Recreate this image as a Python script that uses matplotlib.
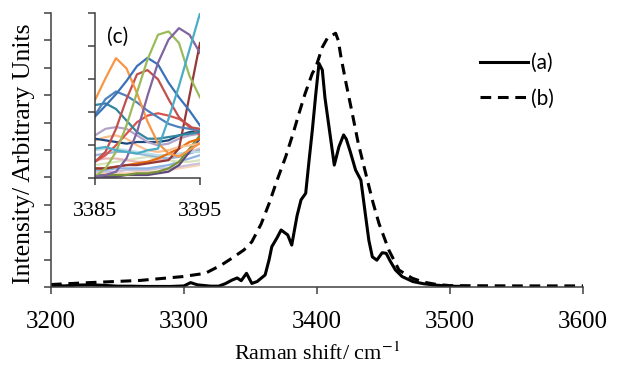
import matplotlib
matplotlib.use("Agg")
import matplotlib.pyplot as plt

plt.rcParams['mathtext.fontset'] = 'stix'

# main spectra, (a) solid and (b) dashed
a_x = [3200, 3210, 3220, 3230, 3240, 3250, 3260, 3270, 3280, 3290, 3300, 3305, 3310,
       3320, 3326, 3331, 3336, 3340, 3343, 3347, 3351, 3355, 3361, 3364, 3366, 3370,
       3373, 3378, 3381, 3385, 3388, 3391.5, 3394, 3396.5, 3399, 3401.5, 3404, 3406,
       3409, 3413, 3416.5, 3420, 3422, 3425, 3429, 3433, 3436.6, 3439, 3441.6, 3445,
       3449, 3452, 3455, 3459, 3464, 3472, 3480, 3489, 3500, 3510]
a_y = [0.05, 0.04, 0.07, 0.08, 0.06, 0.03, 0.03, 0.02, 0.02, 0.02, 0.04, 0.16, 0.08,
       0.03, 0.03, 0.12, 0.25, 0.33, 0.23, 0.5, 0.13, 0.2, 0.44, 1.0, 1.47, 1.8,
       2.08, 1.9, 1.53, 2.6, 3.18, 3.42, 4.6, 5.73, 7.0, 8.16, 7.92, 6.9,
       5.85, 4.45, 5.12, 5.55, 5.4, 4.94, 4.27, 3.9, 2.57, 1.7, 1.1, 0.98,
       1.25, 1.23, 0.95, 0.62, 0.38, 0.2, 0.12, 0.07, 0.03, 0.02]

b_x = [3200, 3229, 3267, 3299, 3316, 3328, 3336, 3345, 3351, 3358, 3364, 3370, 3376.5,
       3382, 3386.5, 3391, 3396.5, 3399, 3404, 3408, 3414, 3416, 3418, 3422, 3426.5,
       3431, 3436.6, 3442, 3446.6, 3454, 3461.6, 3471.6, 3480, 3489, 3500, 3550, 3600]
b_y = [0.09, 0.16, 0.24, 0.38, 0.5, 0.8, 1.05, 1.35, 1.65, 2.3, 3.05, 3.9, 4.76,
       5.6, 6.34, 7.05, 7.8, 8.0, 8.75, 9.1, 9.26, 9.0, 8.4, 7.4, 6.34,
       5.25, 4.15, 3.1, 2.32, 1.35, 0.62, 0.32, 0.18, 0.1, 0.05, 0.04, 0.04]

# inset (c)
c_x = [3385, 3386, 3387, 3388, 3389, 3390, 3391, 3392, 3393, 3394, 3395]
c_lines = [
    ('#FCD5B5', [0.15, 0.15, 0.15, 0.15, 0.2, 0.2, 0.2, 0.25, 0.3, 0.35, 0.4]),
    ('#CCC1DA', [0.2, 0.2, 0.2, 0.25, 0.25, 0.25, 0.3, 0.3, 0.35, 0.4, 0.45]),
    ('#8EB4E3', [0.25, 0.25, 0.3, 0.3, 0.3, 0.3, 0.35, 0.4, 0.5, 0.6, 0.7]),
    ('#D7E4BD', [0.4, 0.45, 0.5, 0.55, 0.6, 0.65, 0.6, 0.55, 0.5, 0.5, 0.55]),
    ('#E6B9B8', [0.55, 0.6, 0.6, 0.55, 0.5, 0.5, 0.55, 0.6, 0.7, 0.8, 0.9]),
    ('#95B3D7', [0.7, 0.75, 0.8, 0.8, 0.75, 0.7, 0.65, 0.6, 0.65, 0.75, 0.85]),
    ('#B7DEE8', [0.85, 0.9, 0.9, 0.85, 0.8, 0.75, 0.7, 0.7, 0.75, 0.8, 0.8]),
    ('#5F497A', [0.05, 0.05, 0.05, 0.1, 0.1, 0.1, 0.15, 0.2, 0.4, 0.8, 1.2]),
    ('#77933C', [0.1, 0.1, 0.1, 0.1, 0.15, 0.15, 0.2, 0.3, 0.5, 0.9, 1.3]),
    ('#E46C0A', [0.3, 0.3, 0.35, 0.4, 0.45, 0.5, 0.6, 0.75, 0.9, 1.1, 1.2]),
    ('#FAC090', [1.15, 1.25, 1.3, 1.2, 1.0, 0.85, 0.8, 0.85, 0.95, 1.0, 1.05]),
    ('#1F497D', [1.2, 1.15, 1.1, 1.05, 1.1, 1.1, 1.1, 1.15, 1.3, 1.4, 1.45]),
    ('#B3A2C7', [1.3, 1.5, 1.55, 1.5, 1.3, 1.1, 1.0, 1.05, 1.2, 1.3, 1.35]),
    ('#953735', [0.3, 0.3, 0.35, 0.4, 0.4, 0.45, 0.5, 0.55, 0.9, 2.5, 4.1]),
    ('#D9534F', [0.5, 0.7, 1.0, 1.35, 1.7, 1.9, 1.97, 1.9, 1.8, 1.6, 1.3]),
    ('#31859C', [2.22, 2.27, 2.1, 1.75, 1.4, 1.2, 1.2, 1.25, 1.3, 1.35, 1.4]),
    ('#4F81BD', [1.92, 2.4, 2.63, 2.5, 2.3, 2.05, 1.85, 1.65, 1.55, 1.5, 1.46]),
    ('#C0504D', [0.5, 0.8, 1.5, 2.4, 3.15, 3.28, 3.0, 2.4, 1.85, 1.55, 1.5]),
    ('#F79646', [2.37, 3.03, 3.64, 3.33, 2.58, 1.72, 1.06, 0.76, 0.66, 0.86, 1.06]),
    ('#3A72B8', [1.87, 2.2, 2.55, 2.95, 3.4, 3.65, 3.45, 2.9, 2.45, 2.05, 1.6]),
    ('#9BBB59', [0.05, 0.3, 0.8, 1.6, 2.6, 3.6, 4.35, 4.45, 4.1, 3.1, 2.45]),
    ('#8064A2', [0.05, 0.1, 0.2, 0.6, 1.4, 2.5, 3.5, 4.2, 4.55, 4.35, 3.8]),
    ('#4BACC6', [0.9, 0.95, 0.85, 0.8, 0.75, 0.85, 0.9, 1.8, 2.8, 3.9, 5.0]),
]

serif = 'Liberation Serif'

fig = plt.figure(figsize=(6.17, 3.65), dpi=100)
ax = fig.add_axes([51/617, 78/365, 532/617, 274/365])
ax.plot(a_x, a_y, color='black', lw=2.2, label='(a)')
ax.plot(b_x, b_y, color='black', lw=2.2, ls=(0, (3.5, 2.2)), label='(b)')
ax.set_xlim(3200, 3600)
ax.set_ylim(0, 10)
ax.set_xticks([3200, 3300, 3400, 3500, 3600])
ax.set_yticks(range(11))
ax.set_yticklabels([])
for s in ['top', 'right']:
    ax.spines[s].set_visible(False)
for s in ['left', 'bottom']:
    ax.spines[s].set_color('#404040')
    ax.spines[s].set_linewidth(1.1)
ax.tick_params(direction='out', length=5, width=1.1, color='#404040')
ax.tick_params(axis='x', pad=12)
for t in ax.get_xticklabels():
    t.set_family(serif)
    t.set_fontsize(18)
ax.set_xlabel('Raman shift/ cm$^{-1}$', family=serif, fontsize=16, labelpad=7)
ax.set_ylabel('Intensity/ Arbitrary Units', family=serif, fontsize=18.5)
ax.yaxis.set_label_coords(-0.03, 0.485)

ax.legend(loc='upper left', bbox_to_anchor=(480/617, 1 - 53/365),
          bbox_transform=fig.transFigure, frameon=False,
          prop={'family': 'Lato', 'size': 15}, handlelength=2.3,
          handletextpad=0.15, labelspacing=0.75, borderpad=0, borderaxespad=0)

ins = fig.add_axes([95/617, 1 - 178.3/365, 105/617, 165/365])
for col, vals in c_lines:
    ins.plot(c_x, vals, color=col, lw=1.6)
ins.set_xlim(3385, 3395)
ins.set_ylim(0, 5)
ins.set_xticks([3385, 3395])
ins.set_yticks(range(6))
ins.set_yticklabels([])
for s in ['top', 'right']:
    ins.spines[s].set_visible(False)
for s in ['left', 'bottom']:
    ins.spines[s].set_color('#404040')
    ins.spines[s].set_linewidth(1.1)
ins.tick_params(direction='out', length=5, width=1.1, color='#404040', pad=12)
for t in ins.get_xticklabels():
    t.set_family(serif)
    t.set_fontsize(16)
ins.text(0.22, 0.856, '(c)', transform=ins.transAxes, ha='center', va='center',
         family='Lato', fontsize=15)

fig.savefig('out.png', dpi=100)
